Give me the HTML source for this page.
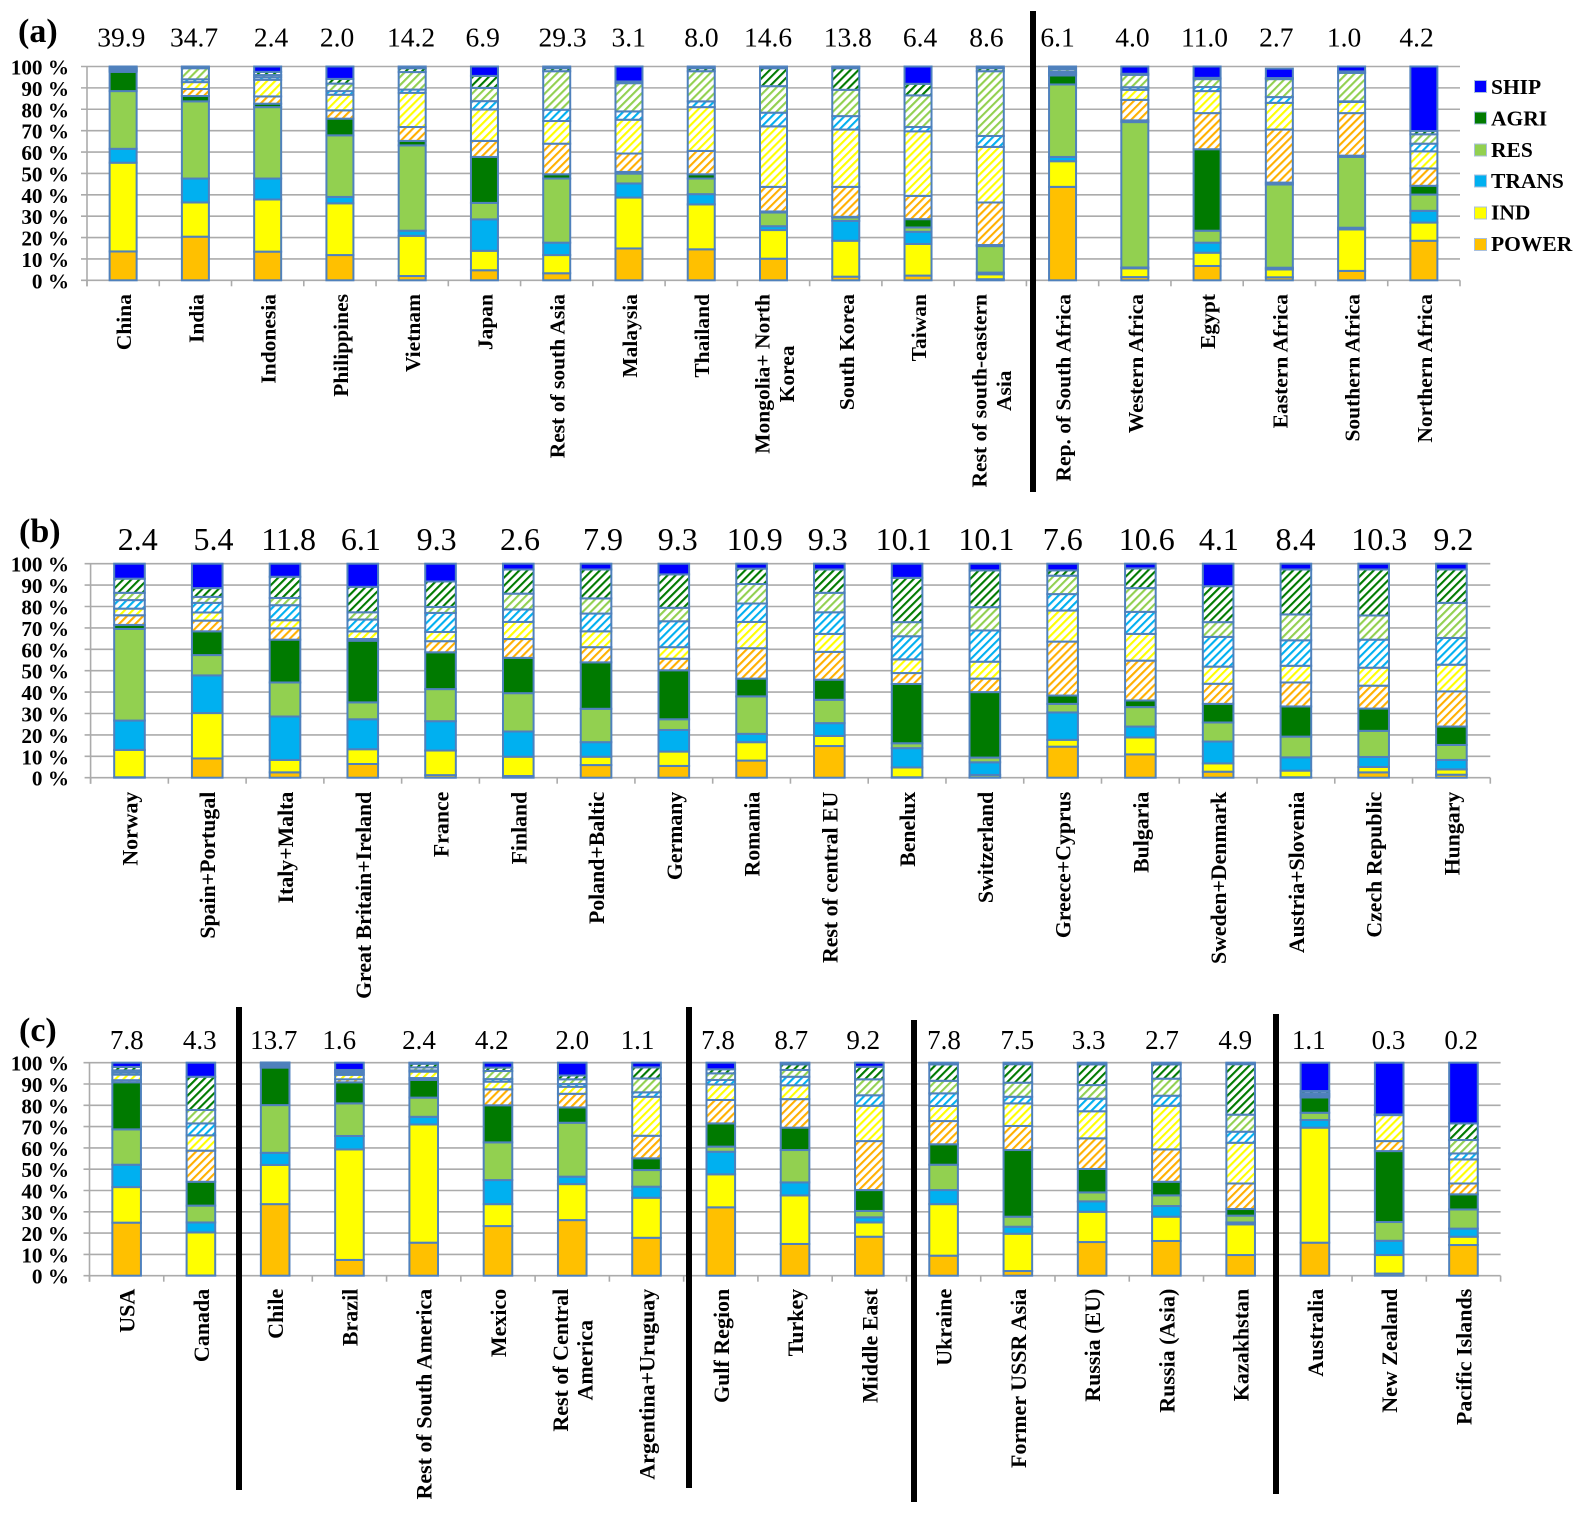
<!DOCTYPE html>
<html lang="en">
<head>
<meta charset="utf-8">
<title>Regional emission shares by sector</title>
<style>
html,body{margin:0;padding:0;background:#fff;}
svg{display:block;filter:blur(0.35px);}
text{font-family:"Liberation Serif",serif;fill:#000;}
.tick{font-size:21.2px;font-weight:bold;text-anchor:end;}
.cat{font-weight:bold;}
.panel{font-size:34px;font-weight:bold;}
.leg{font-size:21.5px;font-weight:bold;}
.ta{font-size:27.5px;text-anchor:middle;}
.tb{font-size:32px;text-anchor:middle;}
.tc{font-size:27px;text-anchor:middle;}
</style>
</head>
<body>
<svg id="chart" xmlns="http://www.w3.org/2000/svg" width="1586" height="1514" viewBox="0 0 1586 1514">
<defs>
<pattern id="hatch-power" patternUnits="userSpaceOnUse" width="5.7" height="5.7" patternTransform="rotate(45)"><rect width="5.7" height="5.7" fill="#fff"/><rect width="2.1" height="5.7" fill="#FFB000"/></pattern>
<pattern id="hatch-ind" patternUnits="userSpaceOnUse" width="5.7" height="5.7" patternTransform="rotate(45)"><rect width="5.7" height="5.7" fill="#fff"/><rect width="2.1" height="5.7" fill="#FFFF00"/></pattern>
<pattern id="hatch-trans" patternUnits="userSpaceOnUse" width="5.7" height="5.7" patternTransform="rotate(45)"><rect width="5.7" height="5.7" fill="#fff"/><rect width="2.1" height="5.7" fill="#00B0F0"/></pattern>
<pattern id="hatch-res" patternUnits="userSpaceOnUse" width="5.7" height="5.7" patternTransform="rotate(45)"><rect width="5.7" height="5.7" fill="#fff"/><rect width="2.1" height="5.7" fill="#92D050"/></pattern>
<pattern id="hatch-agri" patternUnits="userSpaceOnUse" width="5.7" height="5.7" patternTransform="rotate(45)"><rect width="5.7" height="5.7" fill="#fff"/><rect width="2.1" height="5.7" fill="#007A00"/></pattern>
</defs>
<g id="layer-grid"></g>
<g id="layer-bars"></g>
<g id="layer-labels"></g>

<text class="panel" x="18" y="42">(a)</text>
<text class="panel" x="19" y="542">(b)</text>
<text class="panel" x="19" y="1041">(c)</text>

<g>
<text class="ta" y="46.5" x="121.3">39.9</text>
<text class="ta" y="46.5" x="194">34.7</text>
<text class="ta" y="46.5" x="271">2.4</text>
<text class="ta" y="46.5" x="337">2.0</text>
<text class="ta" y="46.5" x="411">14.2</text>
<text class="ta" y="46.5" x="482.7">6.9</text>
<text class="ta" y="46.5" x="562.5">29.3</text>
<text class="ta" y="46.5" x="628.7">3.1</text>
<text class="ta" y="46.5" x="701.4">8.0</text>
<text class="ta" y="46.5" x="768">14.6</text>
<text class="ta" y="46.5" x="847.8">13.8</text>
<text class="ta" y="46.5" x="920">6.4</text>
<text class="ta" y="46.5" x="986.4">8.6</text>
<text class="ta" y="46.5" x="1057.5">6.1</text>
<text class="ta" y="46.5" x="1132.4">4.0</text>
<text class="ta" y="46.5" x="1204.5">11.0</text>
<text class="ta" y="46.5" x="1276.3">2.7</text>
<text class="ta" y="46.5" x="1344">1.0</text>
<text class="ta" y="46.5" x="1416.5">4.2</text>
</g>

<g>
<text class="tb" y="550" x="137.7">2.4</text>
<text class="tb" y="550" x="213.5">5.4</text>
<text class="tb" y="550" x="288.6">11.8</text>
<text class="tb" y="550" x="360.9">6.1</text>
<text class="tb" y="550" x="436.6">9.3</text>
<text class="tb" y="550" x="520">2.6</text>
<text class="tb" y="550" x="603">7.9</text>
<text class="tb" y="550" x="677.7">9.3</text>
<text class="tb" y="550" x="754.8">10.9</text>
<text class="tb" y="550" x="827.8">9.3</text>
<text class="tb" y="550" x="903.6">10.1</text>
<text class="tb" y="550" x="986.4">10.1</text>
<text class="tb" y="550" x="1062.8">7.6</text>
<text class="tb" y="550" x="1146.8">10.6</text>
<text class="tb" y="550" x="1218.9">4.1</text>
<text class="tb" y="550" x="1295.5">8.4</text>
<text class="tb" y="550" x="1379.2">10.3</text>
<text class="tb" y="550" x="1453.4">9.2</text>
</g>

<g>
<text class="tc" y="1049" x="126.7">7.8</text>
<text class="tc" y="1049" x="199.7">4.3</text>
<text class="tc" y="1049" x="273.8">13.7</text>
<text class="tc" y="1049" x="339.2">1.6</text>
<text class="tc" y="1049" x="419">2.4</text>
<text class="tc" y="1049" x="491.7">4.2</text>
<text class="tc" y="1049" x="572.3">2.0</text>
<text class="tc" y="1049" x="637.5">1.1</text>
<text class="tc" y="1049" x="718">7.8</text>
<text class="tc" y="1049" x="791.3">8.7</text>
<text class="tc" y="1049" x="863.3">9.2</text>
<text class="tc" y="1049" x="944">7.8</text>
<text class="tc" y="1049" x="1017.2">7.5</text>
<text class="tc" y="1049" x="1088.6">3.3</text>
<text class="tc" y="1049" x="1162">2.7</text>
<text class="tc" y="1049" x="1235.3">4.9</text>
<text class="tc" y="1049" x="1308.8">1.1</text>
<text class="tc" y="1049" x="1388.5">0.3</text>
<text class="tc" y="1049" x="1461.3">0.2</text>
</g>

<g>
<rect x="1030" y="11" width="6" height="481" fill="#000"/>
<rect x="236" y="1007" width="6" height="483" fill="#000"/>
<rect x="686" y="1007" width="6" height="481" fill="#000"/>
<rect x="911" y="1020" width="6" height="482" fill="#000"/>
<rect x="1273" y="1014" width="6" height="480" fill="#000"/>
</g>

<g>
<rect x="1474.5" y="80.5" width="12" height="12" fill="#0000FF" stroke="#A9C0DE" stroke-width="1"/>
<text class="leg" x="1491" y="94">SHIP</text>
<rect x="1474.5" y="112" width="12" height="12" fill="#007A00" stroke="#A9C0DE" stroke-width="1"/>
<text class="leg" x="1491" y="125.5">AGRI</text>
<rect x="1474.5" y="144" width="12" height="12" fill="#92D050" stroke="#A9C0DE" stroke-width="1"/>
<text class="leg" x="1491" y="157">RES</text>
<rect x="1474.5" y="175" width="12" height="12" fill="#00B0F0" stroke="#A9C0DE" stroke-width="1"/>
<text class="leg" x="1491" y="188">TRANS</text>
<rect x="1474.5" y="207" width="12" height="12" fill="#FFFF00" stroke="#A9C0DE" stroke-width="1"/>
<text class="leg" x="1491" y="219.5">IND</text>
<rect x="1474.5" y="238.5" width="12" height="12" fill="#FFC000" stroke="#A9C0DE" stroke-width="1"/>
<text class="leg" x="1491" y="251">POWER</text>
</g>
</svg>

<script>
const tickLabels = ["0 %","10 %","20 %","30 %","40 %","50 %","60 %","70 %","80 %","90 %","100 %"];
const tickValues = [0,10,20,30,40,50,60,70,80,90,100];
const seriesNames = ["power","ind","trans","res","agri","power-hatched","ind-hatched","trans-hatched","res-hatched","agri-hatched","ship"];

/* Panel (a) */
const aCategories = ["China","India","Indonesia","Philippines","Vietnam","Japan","Rest of south Asia","Malaysia","Thailand","Mongolia+ North|Korea","South Korea","Taiwan","Rest of south-eastern|Asia","Rep. of South Africa","Western Africa","Egypt","Eastern Africa","Southern Africa","Northern Africa"];
const aPower = [13.5,20.4,13.4,11.8,2,4.7,3.3,14.9,14.5,10.1,1.7,2.2,0.5,43.7,1.5,6.7,1.4,4.4,18.5];
const aInd = [41.5,16,24.4,24.2,18.8,9.1,8.5,23.8,21,13.4,16.8,14.8,2.3,12,4.1,6.2,3.7,19.4,8.5];
const aTrans = [6.5,11.2,9.8,3,2.4,14.7,5.8,6.6,4.8,1.8,9.3,5.7,0.8,2,0.4,4.7,0.8,0.8,5.5];
const aRes = [27,36.1,33.4,28.8,39.9,7.7,30,4.6,7.3,6.4,1.6,2,12.4,33.9,68,5.6,38.9,33.1,7.6];
const aAgri = [9,2.5,1.6,7.8,2.1,21.5,2,0.8,2,0.5,0.3,3.9,0.5,4.2,0.8,38.1,0.9,0.6,4.1];
const aPowerH = [0.4,3.3,3.4,3.9,6.5,7.5,14.3,8.6,10.9,11.5,14,10.9,19.9,0.5,9.6,16.9,24.8,19.9,8.1];
const aIndH = [0.4,3.2,7.8,7.3,16,14.7,10.6,15.8,20.5,28.3,26.8,30.2,26,0.6,4.7,10.3,12.5,5.2,8];
const aTransH = [0.4,1.3,1.2,1.7,1.5,3.9,5.3,3.9,2.7,6.4,6.3,2,5.1,0.6,1.2,1.9,2.7,0.3,3.6];
const aResH = [0.4,5.2,1,3.5,8.2,6.2,18,13.2,14.1,12.4,12.3,14.8,30.3,1.1,5.8,3.7,8.4,13.3,4.4];
const aAgriH = [0.4,0.2,1.5,2.2,1.8,5.6,1.4,0.8,1.4,8.4,10.1,5.4,1.4,0.7,0.5,0.6,0.5,0.7,1.5];
const aShip = [0.5,0.6,2.5,5.8,0.8,4.4,0.8,7,0.8,0.8,0.8,8.1,0.8,0.7,3.4,5.3,4.4,2.3,30.2];

/* Panel (b) */
const bCategories = ["Norway","Spain+Portugal","Italy+Malta","Great Britain+Ireland","France","Finland","Poland+Baltic","Germany","Romania","Rest of central EU","Benelux","Switzerland","Greece+Cyprus","Bulgaria","Sweden+Denmark","Austria+Slovenia","Czech Republic","Hungary"];
const bPower = [0.2,9,2.5,6.4,1.2,0.8,5.9,5.5,8,14.8,0.2,0.2,14.5,10.9,2.8,0.2,2.5,1.4];
const bInd = [12.8,21.2,5.8,6.9,11.5,9,3.9,6.7,8.6,4.7,4.6,1.1,3.2,7.9,3.9,3.1,2.5,2.5];
const bTrans = [13.7,17.6,20.3,14,13.7,11.8,6.8,10.1,3.9,6,9,5.9,12.8,5.1,10.2,6.2,4.7,4.4];
const bRes = [42.8,9.5,15.9,7.9,15,17.9,15.6,5,17.5,10.9,2.3,2.2,4,9.1,8.9,9.7,12.2,7];
const bAgri = [1.9,11.1,20,28.8,17.2,16.5,21.7,22.9,8.3,9.4,27.7,30.6,3.9,3.1,8.7,14.1,10.4,8.6];
const bPowerH = [4.5,5,5.3,0.8,5.2,8.8,7.1,5.4,14.2,13,5.1,6.3,25.2,18.6,9.4,11.2,10.7,16.4];
const bIndH = [3.1,3.8,3.8,3.6,4.3,8,7.4,5.4,12.3,8.4,6.4,7.9,14.5,12.5,8,7.8,8.4,12.5];
const bTransH = [4,4.5,7,5.5,8.9,5.8,8.3,12.1,8.6,10.1,10.8,14.6,7.7,10.3,13.9,11.9,13.1,12.5];
const bResH = [3.4,2.8,3.4,3.4,2.8,7.4,7.1,6.3,9.1,9.1,6.6,10.9,8.6,11.1,6.9,12.1,11.3,16.4];
const bAgriH = [6.6,4.1,9.9,11.9,11.9,11.3,13.5,15.6,7.2,10.9,20.7,17.2,2.5,9.2,16.8,21,21.5,15.6];
const bShip = [7,11.4,6.1,10.8,8.3,2.7,2.7,5,2.3,2.7,6.6,3.1,3.1,2.2,10.5,2.7,2.7,2.7];

/* Panel (c) */
const cCategories = ["USA","Canada","Chile","Brazil","Rest of South America","Mexico","Rest of Central|America","Argentina+Uruguay","Gulf Region","Turkey","Middle East","Ukraine","Former USSR Asia","Russia (EU)","Russia (Asia)","Kazakhstan","Australia","New Zealand","Pacific Islands"];
const cPower = [24.9,0.1,33.6,7.4,15.5,23.3,26.1,17.8,32.1,14.9,18.3,9.4,2.2,15.8,16.3,9.7,15.5,1,14.4];
const cInd = [16.7,20.2,18.4,51.9,55.5,10.3,16.9,18.8,15.5,22.8,6.7,24.2,17.5,14.2,11.4,14.4,54,8.7,3.9];
const cTrans = [10.5,4.7,5.7,6.3,3.6,11.3,3.5,5.2,10.6,6.1,2.4,6.6,3.3,4.9,5,0.9,3.6,6.7,3.8];
const cRes = [16.6,7.9,22.4,15.3,9,17.7,25.3,7.8,2.4,15.2,3,11.9,4.7,4.2,5,3.2,3.4,8.8,9];
const cAgri = [22.1,11.2,17.6,9.9,8.3,17.4,7.2,5.5,10.9,10.5,9.8,9.6,31.3,11,6.4,3.1,7.2,33.3,7.1];
const cPowerH = [1,14.6,0.4,1.4,0.9,7.5,6.4,10.6,11,13.4,23,10.9,11.3,14.4,15.2,12,0.5,4.7,5.1];
const cIndH = [2.6,7.2,0.4,2.1,3,3.6,3.3,18.3,7.3,6.5,16.6,7.1,10.6,12.7,20.5,19.1,0.5,12.2,11.3];
const cTransH = [1,5.6,0.4,0.7,0.6,1.2,1.3,2.1,2.1,4,4.9,5.9,3.1,5.9,4.7,5.2,0.5,0.1,2.8];
const cResH = [1,6.3,0.4,0.8,1.4,3.8,2.2,6.5,3.1,3.2,7.5,5.9,6.6,6.4,8,8,0.5,0.1,6.3];
const cAgriH = [1.6,15.6,0.4,0.8,1.7,1.6,1.8,5.2,1.9,2.6,5.9,7.7,8.7,9.7,6.7,23.7,1,0.1,7.8];
const cShip = [2,6.6,0.4,3.4,0.5,2.3,6,2.2,3.1,0.8,1.9,0.8,0.7,0.8,0.8,0.7,13.3,24.3,28.5];

const SVGNS = "http://www.w3.org/2000/svg";
const seriesFills = ["#FFC000","#FFFF00","#00B0F0","#92D050","#007A00","url(#hatch-power)","url(#hatch-ind)","url(#hatch-trans)","url(#hatch-res)","url(#hatch-agri)","#0000FF"];
const gridLayer = document.getElementById("layer-grid");
const barLayer = document.getElementById("layer-bars");
const labelLayer = document.getElementById("layer-labels");

function make(tag, parent, attrs) {
  const el = document.createElementNS(SVGNS, tag);
  for (const k in attrs) el.setAttribute(k, attrs[k]);
  parent.appendChild(el);
  return el;
}

function drawPanel(p) {
  const n = p.categories.length;
  const step = (p.right - p.left) / n;
  const yScale = v => p.bottom - (v / 100) * (p.bottom - p.top);
  const xBand = i => p.left + i * step;
  const xCenter = i => p.left + (i + 0.5) * step;

  tickValues.forEach((t, i) => {
    const line = make("line", gridLayer, {x1: p.left - 6, x2: p.right, y1: yScale(t), y2: yScale(t), stroke: "#ABABAB", "stroke-width": 1.6});
    
    
    const label = make("text", labelLayer, {class: "tick", x: 69, y: yScale(t) + 8});
    
    
    label.textContent = tickLabels[i];
  });

  const yAxis = make("line", gridLayer, {x1: p.left, x2: p.left, y1: p.top, y2: p.bottom + 6, stroke: "#ABABAB", "stroke-width": 1.6});
  
  

  for (let i = 0; i <= n; i++) {
    const tick = make("line", gridLayer, {x1: xBand(i), x2: xBand(i), y1: p.bottom, y2: p.bottom + 6, stroke: "#ABABAB", "stroke-width": 1.6});
    
    
  }

  p.categories.forEach((name, i) => {
    const cx = xCenter(i);
    const labelTop = p.labelTop;
    const lines = name.split("|");
    if (lines.length === 1) {
      const t = make("text", labelLayer, {class: "cat", "font-size": p.labelSize, x: cx + 8, y: labelTop, "text-anchor": "end", transform: "rotate(-90 " + (cx + 8) + " " + labelTop + ")"});
      
      
      t.textContent = name;
    } else {
      const first = make("text", labelLayer, {class: "cat", "font-size": p.labelSize, x: cx - 4, y: labelTop, "text-anchor": "end", transform: "rotate(-90 " + (cx - 4) + " " + labelTop + ")"});
      
      
      first.textContent = lines[0];
      const midY = labelTop + first.getComputedTextLength() / 2;
      const second = make("text", labelLayer, {class: "cat", "font-size": p.labelSize, x: cx + 20.5, y: midY, "text-anchor": "middle", transform: "rotate(-90 " + (cx + 20.5) + " " + midY + ")"});
      
      
      second.textContent = lines[1];
    }

    let cum = 0;
    p.series.forEach((values, s) => {
      const v = values[i];
      const y0 = yScale(cum);
      const y1 = yScale(cum + v);
      cum += v;
      const seg = make("rect", barLayer, {x: cx - p.barWidth / 2, y: y1, width: p.barWidth, height: Math.max(0, y0 - y1), fill: seriesFills[s], stroke: "#4F81BD", "stroke-width": 2});
      
      
    });
  });
}

drawPanel({categories: aCategories, series: [aPower,aInd,aTrans,aRes,aAgri,aPowerH,aIndH,aTransH,aResH,aAgriH,aShip], left: 87, right: 1460, top: 66.5, bottom: 280.3, barWidth: 27, labelTop: 294, labelSize: 21.5});
drawPanel({categories: bCategories, series: [bPower,bInd,bTrans,bRes,bAgri,bPowerH,bIndH,bTransH,bResH,bAgriH,bShip], left: 90.6, right: 1490.3, top: 563.7, bottom: 777.7, barWidth: 30.6, labelTop: 791.7, labelSize: 21.8});
drawPanel({categories: cCategories, series: [cPower,cInd,cTrans,cRes,cAgri,cPowerH,cIndH,cTransH,cResH,cAgriH,cShip], left: 89.5, right: 1500.6, top: 1062.7, bottom: 1275.7, barWidth: 28.6, labelTop: 1288.7, labelSize: 22});
</script>
</body>
</html>
